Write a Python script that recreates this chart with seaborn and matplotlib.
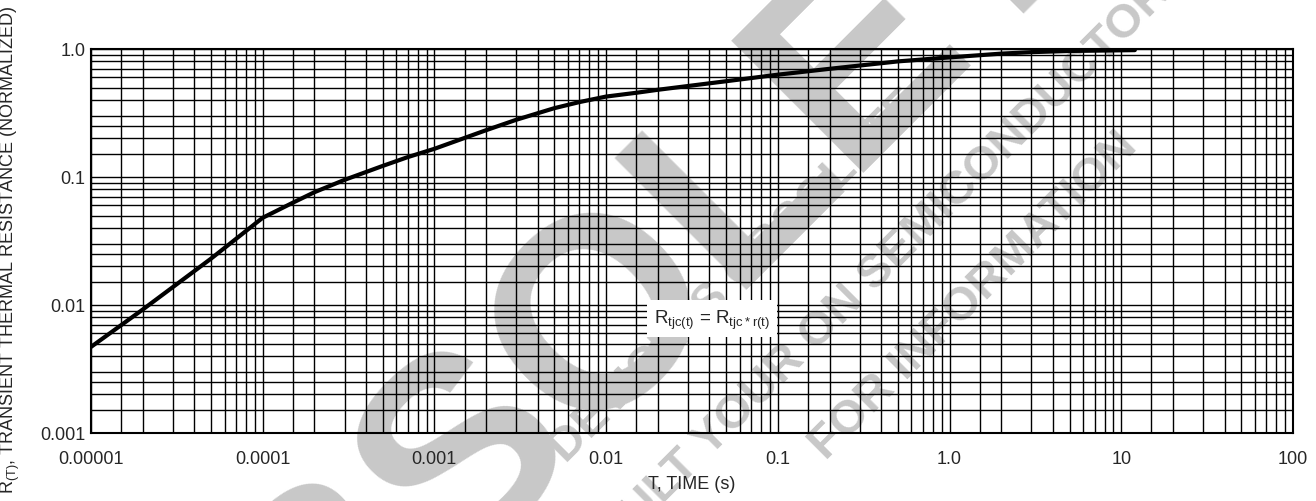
import numpy as np
import pandas as pd
import matplotlib
matplotlib.use("Agg")
import matplotlib.pyplot as plt
import matplotlib.ticker as mticker
import seaborn as sns

# curve
time_s = [1e-5, 2e-5, 5e-5, 1e-4, 1.5e-4, 2e-4, 3e-4, 5e-4, 7e-4, 1e-3, 2e-3, 3e-3, 5e-3,
          7e-3, 1e-2, 1.5e-2, 2e-2, 5e-2, 1e-1, 2e-1, 5e-1, 1.0, 2.0, 3.0, 5.0, 12.0]
r_norm = [0.0047, 0.0092, 0.023, 0.048, 0.063, 0.076, 0.095, 0.122, 0.143, 0.166, 0.232, 0.28, 0.345,
          0.385, 0.425, 0.455, 0.48, 0.56, 0.63, 0.70, 0.80, 0.86, 0.92, 0.945, 0.965, 0.98]

x_ticks = [1e-5, 1e-4, 1e-3, 1e-2, 1e-1, 1, 10, 100]
x_labels = ["0.00001", "0.0001", "0.001", "0.01", "0.1", "1.0", "10", "100"]
y_ticks = [0.001, 0.01, 0.1, 1.0]
y_labels = ["0.001", "0.01", "0.1", "1.0"]

sns.set_style("white")
plt.rcParams['font.family'] = ['Liberation Sans Narrow', 'Liberation Sans', 'DejaVu Sans']

df = pd.DataFrame({'t': time_s, 'r': r_norm})

fig = plt.figure(figsize=(13.16, 5.02), dpi=100)
ax = fig.add_axes([0.0691, 0.1355, 0.9134, 0.7649])
ax.set_zorder(1)
ax.patch.set_alpha(0)

# watermark under the grid
wm = dict(color='#c8c8c8', rotation=45, ha='center', va='center', zorder=-5,
          fontweight='bold', transform=fig.transFigure)
fig.text(0.49, 0.44, "OBSOLETE", fontsize=195, **wm)
fig.text(0.56, 0.45, "DEVICE IS OBSOLETE", fontsize=34, **wm)
fig.text(0.645, 0.40, "CONSULT YOUR ON SEMICONDUCTOR", fontsize=34, **wm)
fig.text(0.74, 0.41, "FOR INFORMATION", fontsize=34, **wm)

sns.lineplot(data=df, x='t', y='r', ax=ax, color='black', linewidth=3, zorder=5)

ax.set_xscale('log')
ax.set_yscale('log')
ax.set_xlim(1e-5, 100)
ax.set_ylim(0.001, 1.0)

ax.xaxis.set_major_locator(mticker.FixedLocator(x_ticks))
ax.xaxis.set_minor_locator(mticker.LogLocator(base=10, subs=[1.5, 2, 3, 4, 5, 6, 7, 8, 9], numticks=20))
ax.yaxis.set_major_locator(mticker.FixedLocator(y_ticks))
ax.yaxis.set_minor_locator(mticker.LogLocator(base=10, subs=[1.5, 2, 2.5, 3, 4, 5, 6, 7, 8, 9], numticks=20))
ax.set_xticklabels(x_labels)
ax.set_yticklabels(y_labels)
ax.xaxis.set_minor_formatter(mticker.NullFormatter())
ax.yaxis.set_minor_formatter(mticker.NullFormatter())

ax.grid(True, which='both', color='black', linewidth=1.0)
ax.tick_params(which='both', length=0, labelsize=13)
ax.tick_params(axis='x', pad=12)
ax.tick_params(axis='y', pad=4)
for s in ax.spines.values():
    s.set_color('black')
    s.set_linewidth(1.5)

ax.set_xlabel("T, TIME (s)", fontsize=13, labelpad=6)
ax.set_ylabel(r"R$_{\mathregular{(T)}}$, TRANSIENT THERMAL RESISTANCE (NORMALIZED)", fontsize=13)
ax.yaxis.set_label_coords(-0.057, 0.48)

ax.text(0.019, 0.0078, r"R$_{\mathregular{tjc(t)}}$ = R$_{\mathregular{tjc*r(t)}}$", fontsize=13.5,
        va='center', zorder=6, bbox=dict(facecolor='white', edgecolor='none', pad=5))

fig.savefig("out.png", dpi=100)
